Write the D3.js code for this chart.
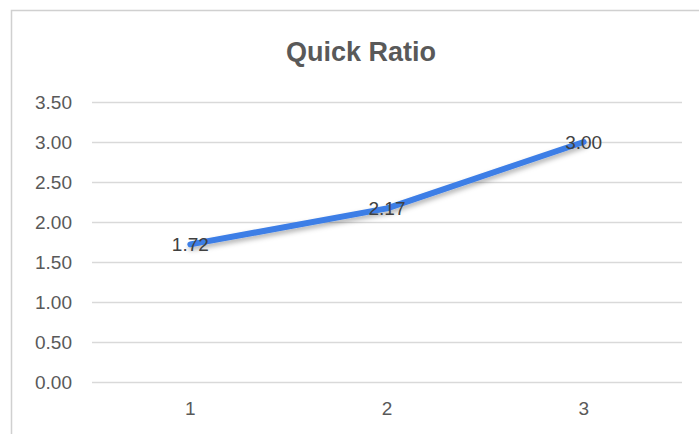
<!DOCTYPE html>
<html><head><meta charset="utf-8">
<script src="https://cdn.jsdelivr.net/npm/d3@7"></script>
<style>body{margin:0;background:#fff;}svg{display:block;font-family:"Liberation Sans",Arial,sans-serif;}</style>
</head><body>
<svg id="c" width="699" height="434"></svg>
<script>
const categories = ["1","2","3"];
const values = [1.72, 2.17, 3.00];
const yTicks = [0,0.5,1,1.5,2,2.5,3,3.5];
const title = "Quick Ratio";

const svg = d3.select("#c");
svg.append("rect").attr("x",11.5).attr("y",10.5).attr("width",720).attr("height",440)
  .attr("fill","#fff").attr("stroke","#d0d0d0").attr("stroke-width",1.5);

const x = d3.scaleBand().domain(categories).range([92,682]);
const y = d3.scaleLinear().domain([0,3.5]).range([382,102]);

svg.append("text").attr("x",361).attr("y",61).attr("text-anchor","middle")
  .attr("font-size",27).attr("font-weight","bold").attr("fill","#595959").text(title);

const gy = svg.append("g").attr("transform","translate(92,0)")
  .call(d3.axisLeft(y).tickValues(yTicks).tickSize(-590).tickFormat(d3.format(".2f")));
gy.select(".domain").remove();
gy.selectAll(".tick line").attr("stroke","#d9d9d9").attr("stroke-width",1.5);
gy.selectAll(".tick text").attr("x",-20).attr("font-size",19).attr("fill","#595959").attr("font-family","Liberation Sans, Arial, sans-serif");

const gx = svg.append("g").attr("transform","translate(0,382)")
  .call(d3.axisBottom(x).tickSize(0).tickPadding(20));
gx.select(".domain").remove();
gx.selectAll(".tick text").attr("font-size",19).attr("fill","#595959").attr("font-family","Liberation Sans, Arial, sans-serif");

const defs = svg.append("defs");
const f = defs.append("filter").attr("id","sh").attr("x","-10%").attr("y","-50%").attr("width","120%").attr("height","200%");
f.append("feDropShadow").attr("dx",1).attr("dy",3).attr("stdDeviation",2.5).attr("flood-color","#000").attr("flood-opacity",0.3);

const line = d3.line().x((d,i)=>x(categories[i])+x.bandwidth()/2).y(d=>y(d));
svg.append("path").datum(values).attr("d",line).attr("fill","none")
  .attr("stroke","#3d7ee6").attr("stroke-width",6).attr("stroke-linecap","round").attr("stroke-linejoin","round")
  .attr("filter","url(#sh)");

svg.selectAll(".lbl").data(values).join("text").attr("class","lbl")
  .attr("x",(d,i)=>x(categories[i])+x.bandwidth()/2).attr("y",d=>y(d)+7)
  .attr("text-anchor","middle").attr("font-size",19).attr("fill","#404040")
  .text(d=>d.toFixed(2));
</script>
</body></html>
